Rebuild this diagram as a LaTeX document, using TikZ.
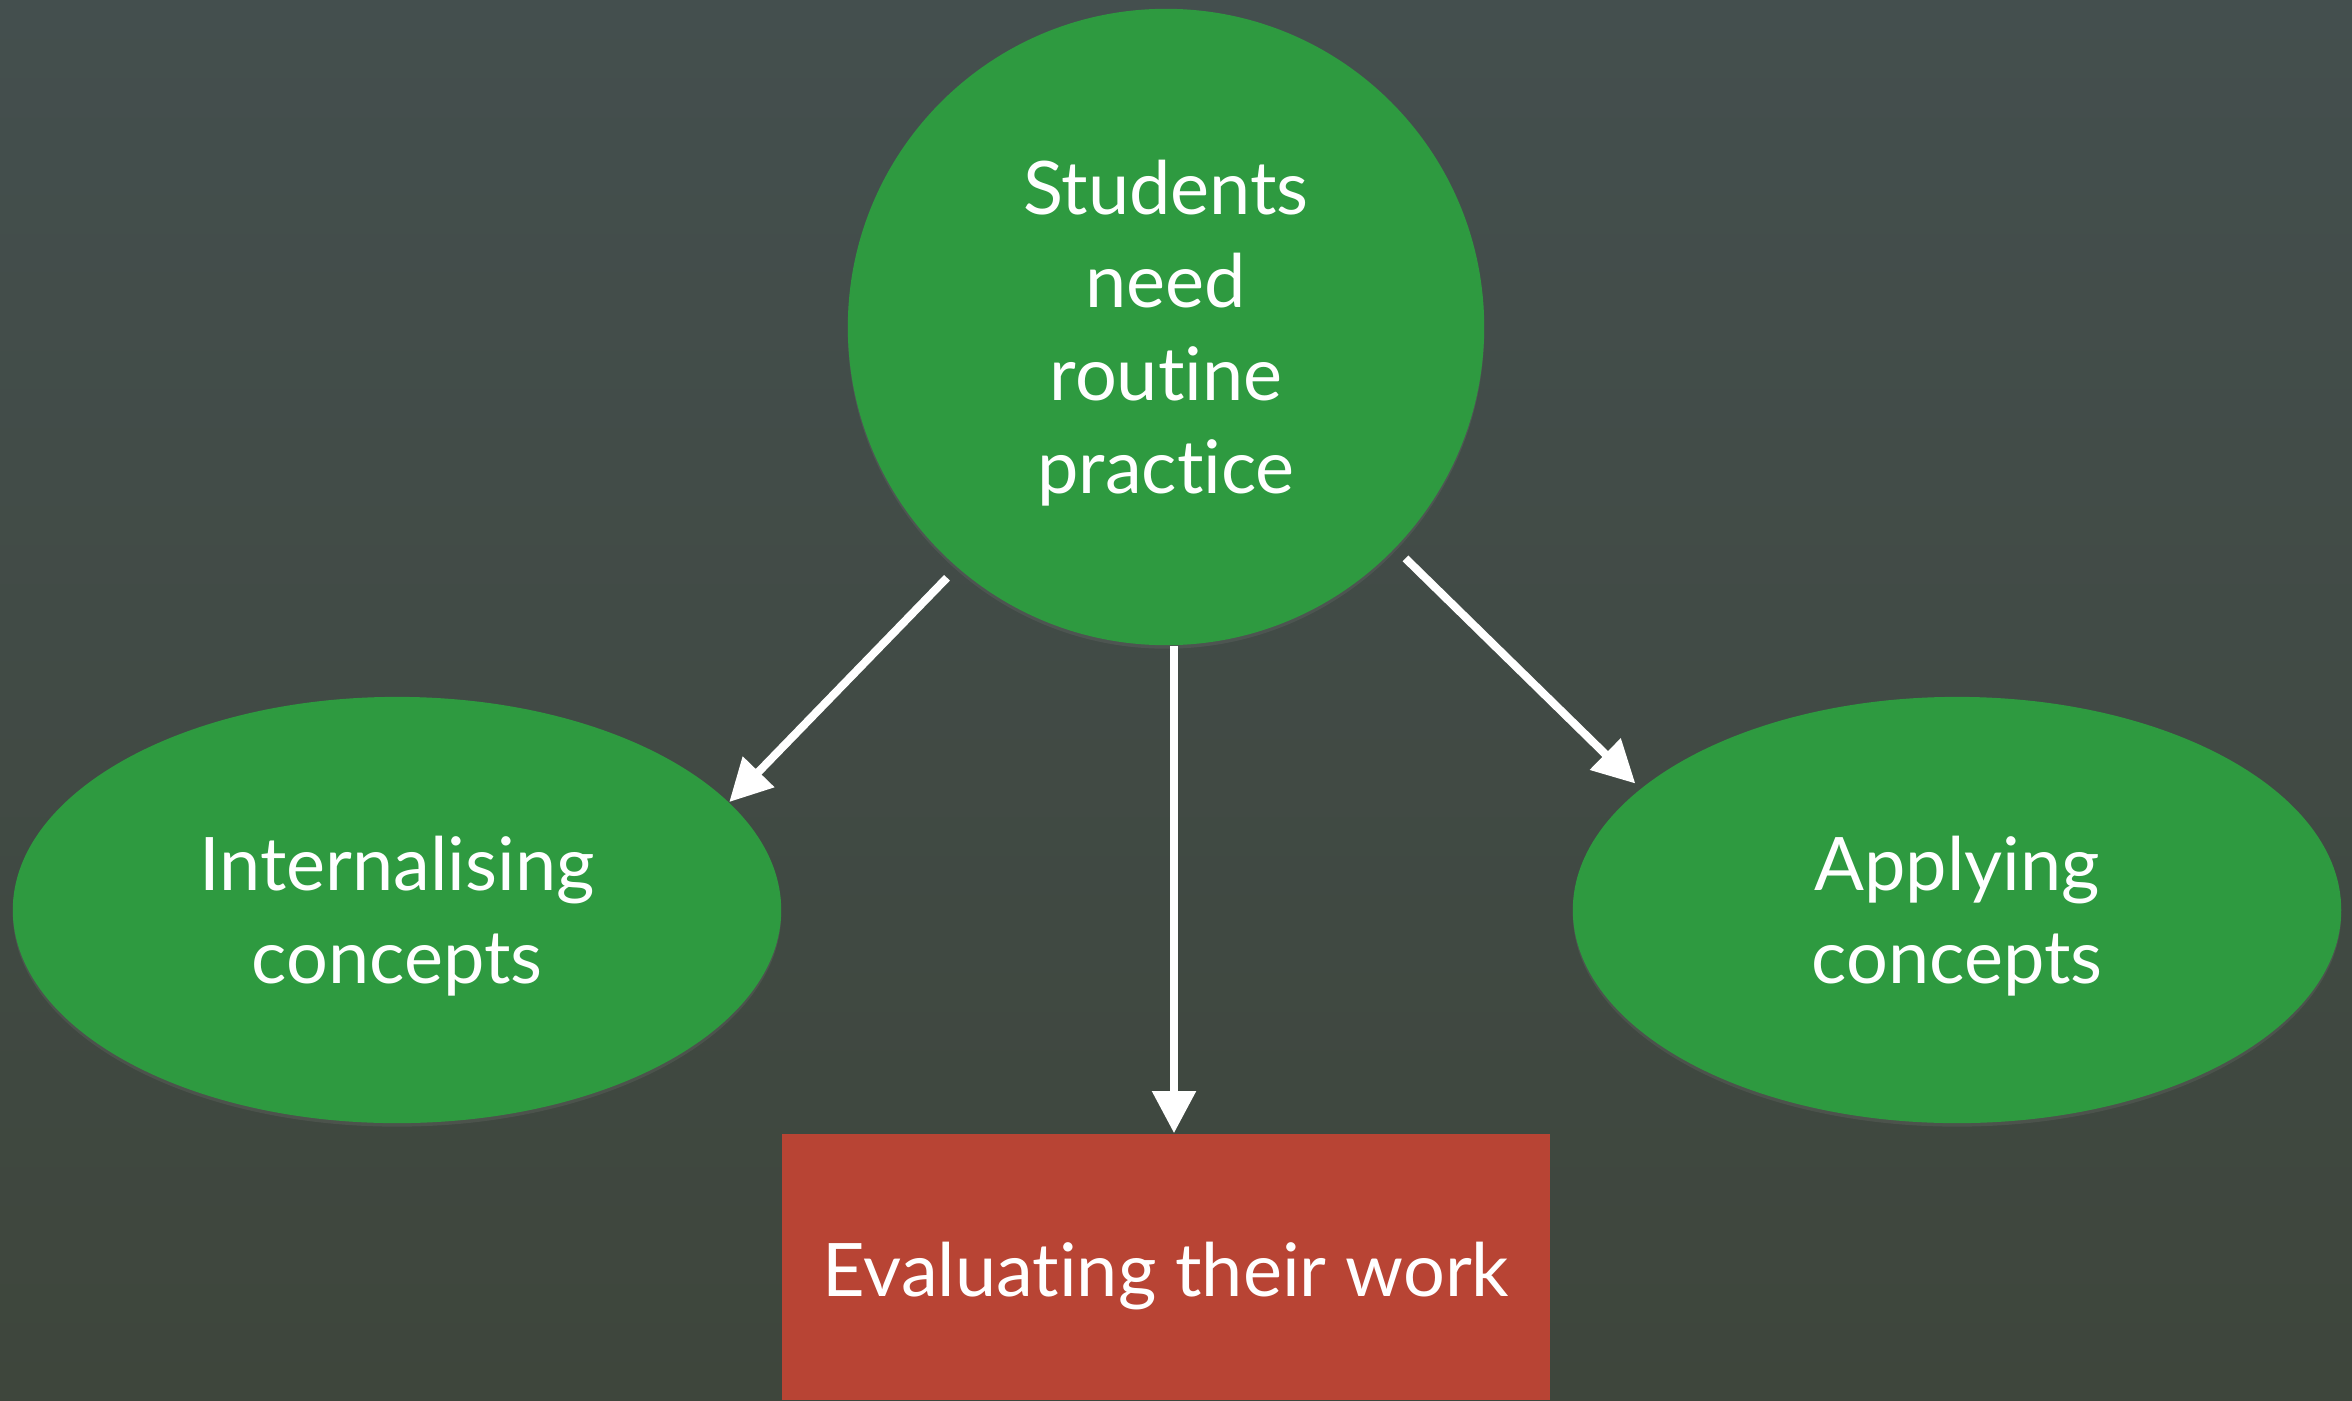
\documentclass[tikz,border=0pt]{standalone}
\usepackage{fontspec}
\setmainfont{Lato}[Ligatures=NoCommon]
\usetikzlibrary{arrows.meta,shapes.geometric,shadows}

\definecolor{bgtop}{HTML}{444F4E}
\definecolor{bgbot}{HTML}{3E463C}
\definecolor{feltgreen}{HTML}{2E9A40}
\definecolor{feltred}{HTML}{B84434}

\tikzset{
	idea/.style = {fill=feltgreen, draw=none, text=white, align=center,
		font=\fontsize{21}{26.5}\selectfont, text depth=-1.5pt,
		drop shadow={opacity=.2, shadow xshift=0pt, shadow yshift=-1pt}},
	arr/.style = {-{Triangle[length=12pt, width=12pt]}, white, line width=2.3pt}
}

\begin{document}
\begin{tikzpicture}[x=0.01cm, y=-0.01cm]
	% background
	\shade [top color=bgtop, bottom color=bgbot] (0,0) rectangle (2352,1400);
	\useasboundingbox (0,0) rectangle (2352,1400);

	\node [idea, circle, minimum size=6.36cm, inner sep=0pt] (need) at (1166,327)
		{Students\\need\\routine\\practice};

	\node [idea, ellipse, minimum width=7.68cm, minimum height=4.26cm] (intern) at (397,910)
		{Internalising\\concepts};
	\node [idea, ellipse, minimum width=7.68cm, minimum height=4.26cm] (apply) at (1957,910)
		{Applying\\concepts};

	\node [fill=feltred, text=white, minimum width=7.68cm, minimum height=2.66cm,
		text height=21pt, text depth=4pt,
		font=\fontsize{21}{26.5}\selectfont] (eval) at (1166,1267) {Evaluating their work};

	\draw [arr, shorten <=4pt] (need.229) -- (intern.18);
	\draw [arr, shorten <=4pt, shorten >=2pt] (need.-44) -- (apply.159);
	\draw [arr] ([xshift=0.08cm]need.south) -- ([xshift=0.08cm]eval.north);
\end{tikzpicture}
\end{document}
